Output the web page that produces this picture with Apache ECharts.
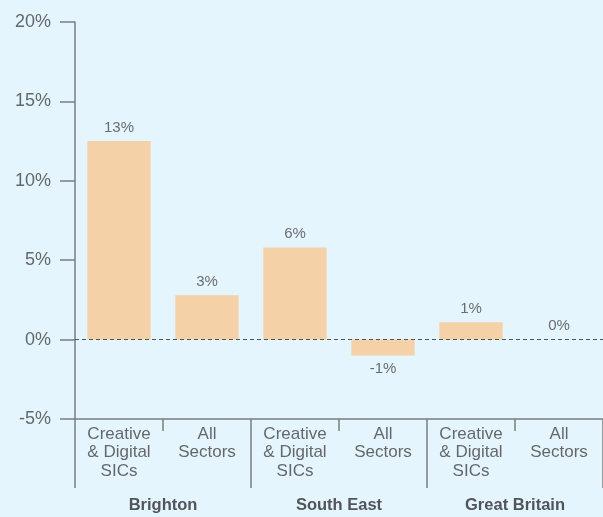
<!DOCTYPE html>
<html>
<head>
<meta charset="utf-8">
<script src="https://cdn.jsdelivr.net/npm/echarts@6/dist/echarts.min.js"></script>
<style>
html,body{margin:0;padding:0;background:#e5f5fd;}
#c{width:603px;height:517px;}
</style>
</head>
<body>
<div id="c"></div>
<script>
var categories = ['Creative\n& Digital\nSICs', 'All\nSectors', 'Creative\n& Digital\nSICs', 'All\nSectors', 'Creative\n& Digital\nSICs', 'All\nSectors'];
var groups = ['Brighton', 'South East', 'Great Britain'];
var values = [12.5, 2.8, 5.8, -1.0, 1.1, 0.0];
var yTicks = { min: -5, max: 20, interval: 5 };

var chart = echarts.init(document.getElementById('c'), null, { renderer: 'canvas' });
var axisColor = '#7a7d80';
var textColor = '#65686b';
var regFont = "'Liberation Sans', Arial, sans-serif";

chart.setOption({
  backgroundColor: '#e5f5fd',
  animation: false,
  grid: { left: 75, right: 0, top: 22, bottom: 98 },
  xAxis: [
    {
      type: 'category',
      data: categories,
      position: 'bottom',
      axisLine: { show: true, onZero: false, lineStyle: { color: axisColor, width: 1.5 } },
      axisTick: { show: true, length: 12, lineStyle: { color: axisColor, width: 1.5 } },
      axisLabel: { color: textColor, fontSize: 17, fontFamily: regFont, lineHeight: 18.5, margin: 6, interval: 0 }
    },
    {
      type: 'category',
      data: groups,
      position: 'bottom',
      axisLine: { show: false, onZero: false },
      axisTick: { show: true, length: 69, lineStyle: { color: axisColor, width: 1.5 } },
      axisLabel: { color: '#525558', fontSize: 16.5, fontWeight: 'bold', fontFamily: regFont, margin: 78, interval: 0 }
    }
  ],
  yAxis: {
    type: 'value',
    min: yTicks.min,
    max: yTicks.max,
    interval: yTicks.interval,
    axisLine: { show: true, onZero: false, lineStyle: { color: axisColor, width: 1.5 } },
    axisTick: { show: true, inside: false, length: 15, lineStyle: { color: axisColor, width: 1.5 } },
    axisLabel: { color: textColor, fontSize: 18, fontFamily: regFont, margin: 24, formatter: function (v) { return v + '%'; } },
    splitLine: { show: false }
  },
  series: [{
    type: 'bar',
    xAxisIndex: 0,
    barWidth: '72%',
    itemStyle: { color: '#f5d1a7' },
    data: values.map(function (v) {
      return { value: v, label: { position: v < 0 ? 'bottom' : 'top' } };
    }),
    label: {
      show: true,
      color: '#6a6d70',
      fontSize: 15,
      fontFamily: regFont,
      distance: 6,
      formatter: function (p) { return Math.round(p.value) + '%'; }
    },
    markLine: {
      silent: true,
      symbol: ['none', 'none'],
      label: { show: false },
      lineStyle: { color: '#505356', type: [4, 3], width: 1 },
      data: [{ yAxis: 0 }]
    }
  }]
});
</script>
</body>
</html>
